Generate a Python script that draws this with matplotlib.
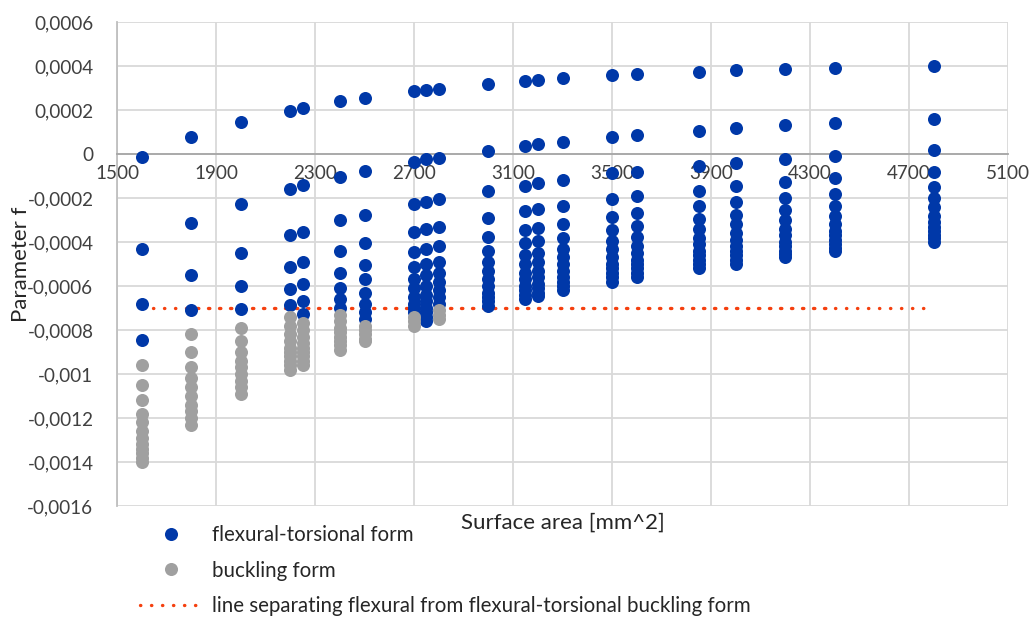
import numpy as np
import matplotlib.pyplot as plt
from matplotlib.lines import Line2D

plt.rcParams['font.family'] = ['Lato', 'DejaVu Sans']

# surface area of every column of points [mm^2]
areas = [1600, 1800, 2000, 2200, 2250, 2400, 2500, 2700, 2750, 2800,
         3000, 3150, 3200, 3300, 3500, 3600, 3850, 4000, 4200, 4400, 4800]

# parameter f, flexural-torsional form (blue), one list per column
flex_torsional = [
    [-0.000015, -0.00043, -0.00068, -0.000845],
    [0.000077, -0.000315, -0.00055, -0.00071],
    [0.000145, -0.000226, -0.00045, -0.0006, -0.000703],
    [0.000197, -0.000158, -0.00037, -0.000512, -0.000612, -0.000688],
    [0.000209, -0.000142, -0.000353, -0.000491, -0.000592, -0.000667, -0.000726],
    [0.00024, -0.000105, -0.0003, -0.00044, -0.00054, -0.00061, -0.00066, -0.0007],
    [0.000256, -0.000075, -0.000275, -0.000405, -0.000505, -0.00057, -0.00063,
     -0.00068, -0.00072, -0.00075],
    [0.000286, -0.000035, -0.000227, -0.000355, -0.000445, -0.000515, -0.00057,
     -0.00061, -0.00065, -0.00068, -0.0007, -0.00072],
    [0.000291, -0.000023, -0.000217, -0.00034, -0.00043, -0.0005, -0.00055,
     -0.0006, -0.00064, -0.00067, -0.0007, -0.00072, -0.00074, -0.00076],
    [0.000297, -0.000017, -0.000206, -0.00033, -0.00042, -0.00049, -0.00054,
     -0.00058, -0.00062, -0.00065, -0.00068],
    [0.00032, 0.000015, -0.000167, -0.00029, -0.000376, -0.00044, -0.00049,
     -0.00053, -0.00057, -0.0006, -0.00063, -0.00065, -0.00067, -0.00069],
    [0.000332, 0.000036, -0.000145, -0.00026, -0.000345, -0.000406, -0.00046,
     -0.0005, -0.00054, -0.00057, -0.0006, -0.00062, -0.00064, -0.00066],
    [0.000336, 0.000044, -0.000133, -0.00025, -0.000335, -0.000397, -0.00045,
     -0.00049, -0.00053, -0.00056, -0.00059, -0.00061, -0.00063, -0.000645],
    [0.000344, 0.000055, -0.000118, -0.000235, -0.000318, -0.00038, -0.00043,
     -0.00047, -0.0005, -0.00053, -0.00056, -0.00058, -0.0006, -0.00062],
    [0.000358, 0.000076, -0.000088, -0.000206, -0.000286, -0.000345, -0.000394,
     -0.00043, -0.00047, -0.0005, -0.00052, -0.00054, -0.00056, -0.00058],
    [0.000364, 0.000085, -0.00008, -0.00019, -0.00027, -0.000327, -0.000376,
     -0.00042, -0.00045, -0.00048, -0.0005, -0.00052, -0.00054, -0.00056],
    [0.000374, 0.000106, -0.000055, -0.000167, -0.000236, -0.000297, -0.00034,
     -0.00038, -0.00041, -0.00044, -0.00046, -0.00048, -0.0005, -0.00052],
    [0.00038, 0.000117, -0.00004, -0.000144, -0.00022, -0.000276, -0.00032,
     -0.00036, -0.00039, -0.00042, -0.00044, -0.00046, -0.00048, -0.0005],
    [0.000386, 0.00013, -0.000023, -0.000126, -0.0002, -0.000255, -0.0003,
     -0.00034, -0.00037, -0.0004, -0.00042, -0.00044, -0.000455, -0.00047],
    [0.000392, 0.000141, -0.000008, -0.000108, -0.000182, -0.000236, -0.00028,
     -0.00032, -0.00035, -0.00037, -0.00039, -0.00041, -0.000425, -0.00044],
    [0.0004, 0.00016, 0.000017, -0.00008, -0.000148, -0.0002, -0.000242,
     -0.00028, -0.00031, -0.00033, -0.00035, -0.00037, -0.00038, -0.0004],
]

# parameter f, buckling form (gray)
buckling = [
    [-0.00096, -0.00105, -0.00112, -0.00118, -0.00122, -0.00126, -0.00129,
     -0.00132, -0.00134, -0.00136, -0.00138, -0.0014],
    [-0.00082, -0.0009, -0.00097, -0.00102, -0.00106, -0.0011, -0.00114,
     -0.00117, -0.0012, -0.00123],
    [-0.00079, -0.00085, -0.0009, -0.00094, -0.00097, -0.001, -0.00103,
     -0.00106, -0.00109],
    [-0.00074, -0.00078, -0.00082, -0.00085, -0.00088, -0.0009, -0.00092,
     -0.00094, -0.00096, -0.00098],
    [-0.00077, -0.0008, -0.00083, -0.00086, -0.00088, -0.0009, -0.00092,
     -0.00094, -0.00096],
    [-0.00073, -0.00076, -0.00079, -0.00081, -0.00083, -0.00085, -0.00087,
     -0.00089],
    [-0.00078, -0.0008, -0.00082, -0.00084, -0.00085],
    [-0.00074, -0.00076, -0.00078],
    [],
    [-0.00071, -0.00073, -0.00075],
    [], [], [], [], [], [], [], [], [], [], [],
]

# separating line (two overlapping dotted segments)
line_x = [1600, 4800]
line_x2 = [1800, 4400]
line_f = -0.0007

x_ticks = [1500, 1900, 2300, 2700, 3100, 3500, 3900, 4300, 4700, 5100]
y_ticks = [0.0006, 0.0004, 0.0002, 0, -0.0002, -0.0004, -0.0006, -0.0008,
           -0.001, -0.0012, -0.0014, -0.0016]
y_tick_labels = ['0,0006', '0,0004', '0,0002', '0', '-0,0002', '-0,0004',
                 '-0,0006', '-0,0008', '-0,001', '-0,0012', '-0,0014', '-0,0016']

blue = '#0038A8'
grey = '#A0A0A0'
red = '#F5400F'
dots = (0, (0.1, 3.2))

W, H = 1033, 621
fig = plt.figure(figsize=(W / 100, H / 100), dpi=100)
ax = fig.add_axes([117 / W, 1 - 506 / H, 891 / W, 484 / H])

# flatten the columns
bx = np.concatenate([[a] * len(v) for a, v in zip(areas, flex_torsional)])
by = np.concatenate(flex_torsional)
gx = np.concatenate([[a] * len(v) for a, v in zip(areas, buckling) if v])
gy = np.concatenate([v for v in buckling if v])

ax.plot(line_x, [line_f] * 2, color=red, lw=2.4, ls=dots,
        dash_capstyle='round', zorder=2)
ax.plot(line_x2, [line_f] * 2, color=red, lw=2.4, ls=(1.2, (0.1, 3.2)),
        dash_capstyle='round', zorder=2)
ax.scatter(bx, by, s=88, color=blue, linewidths=0, zorder=3)
ax.scatter(gx, gy, s=88, color=grey, linewidths=0, zorder=3)

ax.set_xlim(1500, 5100)
ax.set_ylim(-0.0016, 0.0006)
ax.set_xticks(x_ticks)
ax.set_yticks(y_ticks)
ax.set_yticklabels(y_tick_labels)
ax.grid(True, color='#D9D9D9', lw=1.3, zorder=0)
ax.set_axisbelow(True)

for s in ['top', 'right']:
    ax.spines[s].set_visible(False)
ax.spines['bottom'].set_position(('data', 0))
ax.spines['bottom'].set_color('#A6A6A6')
ax.spines['bottom'].set_linewidth(1.3)
ax.spines['left'].set_color('#BFBFBF')
ax.spines['left'].set_linewidth(1.3)
ax.tick_params(length=0, labelsize=13.6, colors='#404040')
ax.tick_params(axis='x', pad=8)
ax.tick_params(axis='y', pad=17)

ax.set_xlabel('Surface area [mm^2]', fontsize=16, color='#262626')
ax.xaxis.set_label_coords(0.5, -0.013)
ax.set_ylabel('Parameter f', fontsize=16, color='#262626')
ax.yaxis.set_label_coords(-0.097, 0.5)

handles = [
    Line2D([], [], ls='none', marker='o', ms=9.4, color=blue, mew=0),
    Line2D([], [], ls='none', marker='o', ms=9.4, color=grey, mew=0),
    Line2D([], [], color=red, lw=2.4, ls=dots, dash_capstyle='round'),
]
labels = ['flexural-torsional form', 'buckling form',
          'line separating flexural from flexural-torsional buckling form']
fig.legend(handles, labels, loc='upper left',
           bbox_to_anchor=(140 / W, 1 - 525 / H), frameon=False,
           fontsize=14.8, handlelength=3.06, handletextpad=0.44,
           labelspacing=0.76, borderpad=0, borderaxespad=0,
           labelcolor='#262626')

fig.savefig('out.png', dpi=100)
